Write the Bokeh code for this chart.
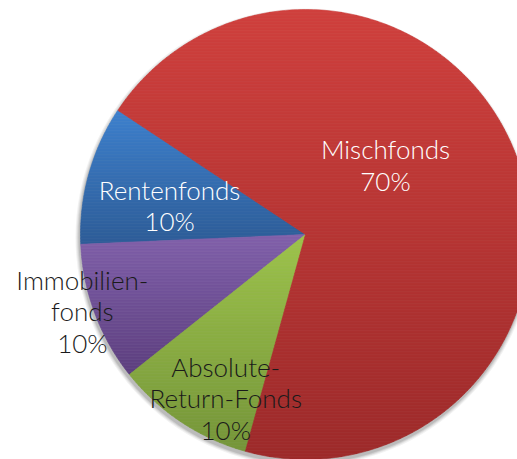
import numpy as np
from bokeh.plotting import figure
from bokeh.models import ColumnDataSource
from bokeh.core.properties import value
from bokeh.embed import file_html
from bokeh.resources import INLINE

# data (counterclockwise from start angle)
categories = ["Rentenfonds", "Immobilienfonds", "Absolute-Return-Fonds", "Mischfonds"]
label_lines = [["Rentenfonds"], ["Immobilien-", "fonds"], ["Absolute-", "Return-Fonds"], ["Mischfonds"]]
shares = [10, 10, 10, 70]
top_colors = ["#3d80cd", "#8161ab", "#9dc34b", "#d0403d"]
bottom_colors = ["#2d5c97", "#5d3f7f", "#759539", "#9d2a2a"]
text_colors = ["#ffffff", "#1a1a1a", "#1a1a1a", "#ffffff"]

# layout
W, H = 517, 459
cx, cy, R = 305, 225, 225
start_deg = 146.5
label_dist = [139, 236, 182, 106]
label_ang = [168, 199, 244, 41]
font_px = 26
line_h = 31.5
band = 3.0


def hex2rgb(h):
    return np.array([int(h[i:i + 2], 16) for i in (1, 3, 5)], dtype=float)


def rgb2hex(c):
    c = np.clip(np.round(c), 0, 255).astype(int)
    return "#%02x%02x%02x" % tuple(c)


def clip_y(poly, y0, keep_above):
    out = []
    n = len(poly)
    for k in range(n):
        P = poly[k]
        Q = poly[(k + 1) % n]
        inP = P[1] >= y0 if keep_above else P[1] <= y0
        inQ = Q[1] >= y0 if keep_above else Q[1] <= y0
        if inP:
            out.append(P)
        if inP != inQ:
            t = (y0 - P[1]) / (Q[1] - P[1])
            out.append((P[0] + t * (Q[0] - P[0]), y0))
    return out


vals = np.array(shares, dtype=float)
frac = vals / vals.sum()
ends = np.cumsum(frac) * 2 * np.pi
starts = ends - frac * 2 * np.pi
start = np.deg2rad(start_deg)

p = figure(width=W, height=H, x_range=(0, W), y_range=(0, H),
           output_backend="svg", toolbar_location=None, min_border=0)
p.axis.visible = False
p.grid.visible = False
p.outline_line_color = None
p.background_fill_color = "white"
p.border_fill_color = "white"

# soft shadow
for k, (dr, al) in enumerate([(4, 0.05), (3, 0.06), (2, 0.08), (1, 0.10)]):
    p.circle(x=[cx - 1], y=[cy - 3], radius=R + dr, fill_color="#000000",
             fill_alpha=al, line_color=None)

xs, ys, cols = [], [], []
for i in range(len(shares)):
    a0, a1 = start + starts[i], start + ends[i]
    m = max(4, int(np.degrees(a1 - a0)))
    ang = np.linspace(a0, a1, m)
    poly = [(cx, cy)] + [(cx + R * np.cos(t), cy + R * np.sin(t)) for t in ang]
    ymin = min(q[1] for q in poly)
    ymax = max(q[1] for q in poly)
    ctop, cbot = hex2rgb(top_colors[i]), hex2rgb(bottom_colors[i])
    y = ymin
    while y < ymax:
        y1 = min(y + band, ymax)
        piece = clip_y(clip_y(poly, y, True), y1, False)
        if len(piece) >= 3:
            f = ((y + y1) / 2 - ymin) / (ymax - ymin)
            xs.append([q[0] for q in piece])
            ys.append([q[1] for q in piece])
            cols.append(rgb2hex(cbot + (ctop - cbot) * f))
        y = y1

src = ColumnDataSource(dict(xs=xs, ys=ys, color=cols))
p.patches(xs="xs", ys="ys", fill_color="color", line_color="color", line_width=0.6, source=src)

for i, lines in enumerate(label_lines):
    a = np.deg2rad(label_ang[i])
    lx = cx + label_dist[i] * np.cos(a)
    ly = cy + label_dist[i] * np.sin(a)
    all_lines = lines + [f"{shares[i]:.0f}%"]
    n = len(all_lines)
    for j, t in enumerate(all_lines):
        off = (j - (n - 1) / 2) * line_h
        p.text(x=[lx], y=[ly - off], text=[t], text_align="center", text_baseline="middle",
               text_font=value("Lato Light"), text_font_size=f"{font_px}px",
               text_color=text_colors[i])

open("out.html", "w").write(file_html(p, INLINE))
